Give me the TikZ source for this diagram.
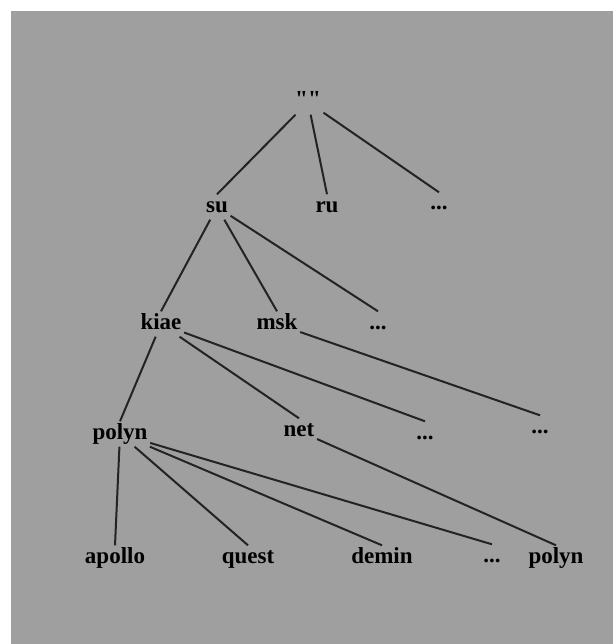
\documentclass[tikz,border=0pt]{standalone}
\usepackage{fontspec}
\setmainfont{Liberation Serif}
\newfontfamily\quotefont{Liberation Serif}
\usepackage{xcolor}
\usepackage{tikz}
\definecolor{panel}{RGB}{159,159,159}
\definecolor{wire}{RGB}{35,35,35}

\begin{document}
\begin{tikzpicture}[x=1pt, y=-1pt,
    lbl/.style={rectangle, inner sep=2.5pt, text height=15pt, text depth=5pt,
        font=\bfseries\fontsize{23}{26}\selectfont},
    link/.style={draw=wire, line width=2pt}]

    % Page and grey panel
    \fill[white] (0,0) rectangle (613,644);
    \useasboundingbox (0,0) rectangle (613,644);
    \fill[panel] (11,11) rectangle (613,644);

    % Root
    \node[lbl] (root) at (308,102) {\quotefont\bfseries ""};

    % First level
    \node[lbl] (su) at (217,207) {su};
    \node[lbl] (ru) at (327,207) {ru};
    \node[lbl] (etcA) at (439,205) {...};

    % Second level
    \node[lbl] (kiae) at (161,324) {kiae};
    \node[lbl] (msk) at (277,324) {msk};
    \node[lbl] (etcB) at (378,324) {...};

    % Third level
    \node[lbl] (polyn) at (120,434) {polyn};
    \node[lbl] (net) at (299,431) {net};
    \node[lbl] (etcC) at (425,434) {...};
    \node[lbl] (etcD) at (540,428) {...};

    % Fourth level
    \node[lbl] (apollo) at (115,558) {apollo};
    \node[lbl] (quest) at (248,558) {quest};
    \node[lbl] (demin) at (382,558) {demin};
    \node[lbl] (etcE) at (492,557) {...};
    \node[lbl] (polynb) at (556,558) {polyn};

    \draw[link] (root) -- (su.north);
    \draw[link] (root) -- (ru.north);
    \draw[link] (root) -- (etcA.north);
    \draw[link] (su) -- (kiae.north);
    \draw[link] (su) -- (msk.north);
    \draw[link] (su) -- (etcB.north);
    \draw[link] (kiae) -- (polyn.north);
    \draw[link] (kiae) -- (net.north);
    \draw[link] (kiae) -- (etcC.north);
    \draw[link] (msk) -- (etcD.north);
    \draw[link] (polyn) -- (apollo.north);
    \draw[link] (polyn) -- (quest.north);
    \draw[link] (polyn) -- (demin.north);
    \draw[link] (polyn) -- (etcE.north);
    \draw[link] (net) -- (polynb.north);
\end{tikzpicture}
\end{document}
